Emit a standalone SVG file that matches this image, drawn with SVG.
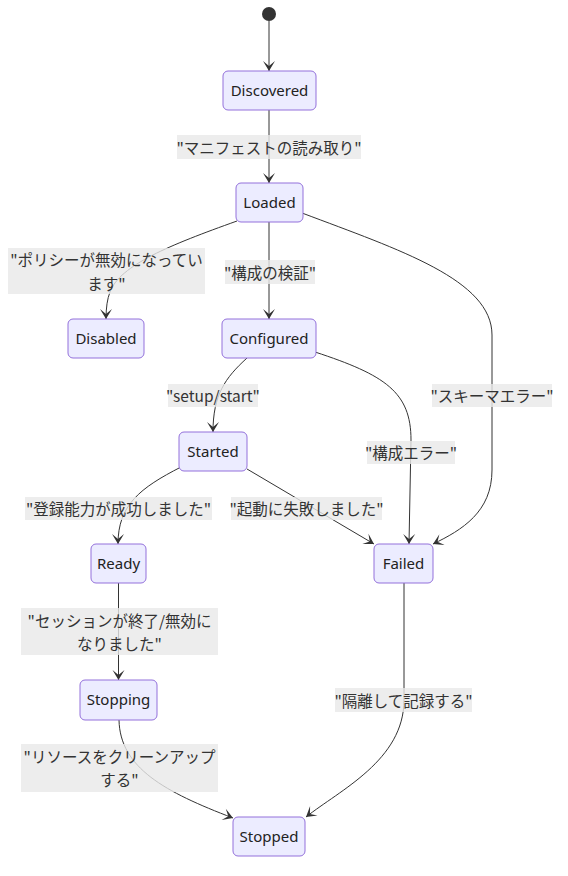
<svg xmlns="http://www.w3.org/2000/svg" width="568" height="876" viewBox="0 0 568 876">
<style>
.node rect{fill:#ECECFF;stroke:#9370DB;stroke-width:1}
.node text{font-family:"Noto Sans","Noto Sans CJK JP",sans-serif;font-size:15px;fill:#222;text-anchor:middle;dominant-baseline:central}
.edge{fill:none;stroke:#333;stroke-width:1;marker-end:url(#barb)}
.lbl rect{fill:#e8e8e8;opacity:0.8}
.lbl text{font-family:"Noto Sans CJK JP","Noto Sans",sans-serif;font-size:15.5px;fill:#333;text-anchor:middle;dominant-baseline:central}
</style>
<defs>
<marker id="barb" viewBox="0 0 20 14" refX="19" refY="7" markerWidth="20" markerHeight="14" markerUnits="userSpaceOnUse" orient="auto">
<path d="M19,7 L9,13 L14,7 L9,1 Z" fill="#333"/>
</marker>
</defs>
<rect width="568" height="876" fill="#fff"/>
<g id="edges">
<path class="edge" d="M269,21 L269,71"/>
<path class="edge" d="M269,110 L269,183"/>
<path class="edge" d="M237,221 C170,245 120,265 110,292 Q106,302 106,319"/>
<path class="edge" d="M269,222 L269,319"/>
<path class="edge" d="M302,213 C400,250 492,280 492,335 L492,470 C492,512 462,530 433,544"/>
<path class="edge" d="M247,358 C225,378 213,395 213,432"/>
<path class="edge" d="M315,352 C385,375 411,392 411,440 L409,544"/>
<path class="edge" d="M181,467 C140,488 118,505 118,544"/>
<path class="edge" d="M247,469 L374,544"/>
<path class="edge" d="M118.5,583 L118.5,680"/>
<path class="edge" d="M404,583 L404,700 C404,760 340,790 306,817"/>
<path class="edge" d="M119,720 C120,768 165,792 233,818"/>
</g>
<g id="labels">
<g class="lbl"><rect x="177" y="135" width="184" height="24"/><text x="269" y="147">"マニフェストの読み取り"</text></g>
<g class="lbl"><rect x="8" y="248" width="197" height="46"/><text x="106.5" y="259">"ポリシーが無効になってい</text><text x="106.5" y="283">ます"</text></g>
<g class="lbl"><rect x="225" y="260" width="90" height="24"/><text x="270" y="272">"構成の検証"</text></g>
<g class="lbl"><rect x="168" y="384" width="90" height="23"/><text x="213" y="395">"setup/start"</text></g>
<g class="lbl"><rect x="432" y="384" width="120" height="23"/><text x="492" y="395">"スキーマエラー"</text></g>
<g class="lbl"><rect x="367" y="441" width="88" height="23"/><text x="411" y="452">"構成エラー"</text></g>
<g class="lbl"><rect x="25" y="497" width="187" height="23"/><text x="118.5" y="508">"登録能力が成功しました"</text></g>
<g class="lbl"><rect x="231" y="497" width="151" height="23"/><text x="306.5" y="508">"起動に失敗しました"</text></g>
<g class="lbl"><rect x="21" y="608" width="197" height="47"/><text x="119.5" y="620">"セッションが終了/無効に</text><text x="119.5" y="643">なりました"</text></g>
<g class="lbl"><rect x="21" y="744" width="197" height="48"/><text x="119.5" y="756">"リソースをクリーンアップ</text><text x="119.5" y="779">する"</text></g>
<g class="lbl"><rect x="335" y="688" width="137" height="24"/><text x="403.5" y="700">"隔離して記録する"</text></g>
</g>
<g id="start"><circle cx="269" cy="14" r="7" fill="#333"/></g>
<g id="Discovered" class="node"><rect x="223" y="71" width="93" height="39" rx="5"/><text x="269.5" y="89.5">Discovered</text></g>
<g id="Loaded" class="node"><rect x="236" y="183" width="67" height="39" rx="5"/><text x="269.5" y="201.5">Loaded</text></g>
<g id="Disabled" class="node"><rect x="68" y="319" width="76" height="39" rx="5"/><text x="106" y="337.5">Disabled</text></g>
<g id="Configured" class="node"><rect x="222" y="319" width="94" height="39" rx="5"/><text x="269" y="337.5">Configured</text></g>
<g id="Started" class="node"><rect x="179" y="432" width="68" height="39" rx="5"/><text x="213" y="450.5">Started</text></g>
<g id="Ready" class="node"><rect x="91" y="544" width="55" height="39" rx="5"/><text x="118.5" y="562.5">Ready</text></g>
<g id="Failed" class="node"><rect x="374" y="544" width="59" height="39" rx="5"/><text x="403.5" y="562.5">Failed</text></g>
<g id="Stopping" class="node"><rect x="80" y="680" width="77" height="40" rx="5"/><text x="118.5" y="699">Stopping</text></g>
<g id="Stopped" class="node"><rect x="233" y="817" width="72" height="39" rx="5"/><text x="269" y="835.5">Stopped</text></g>
</svg>
